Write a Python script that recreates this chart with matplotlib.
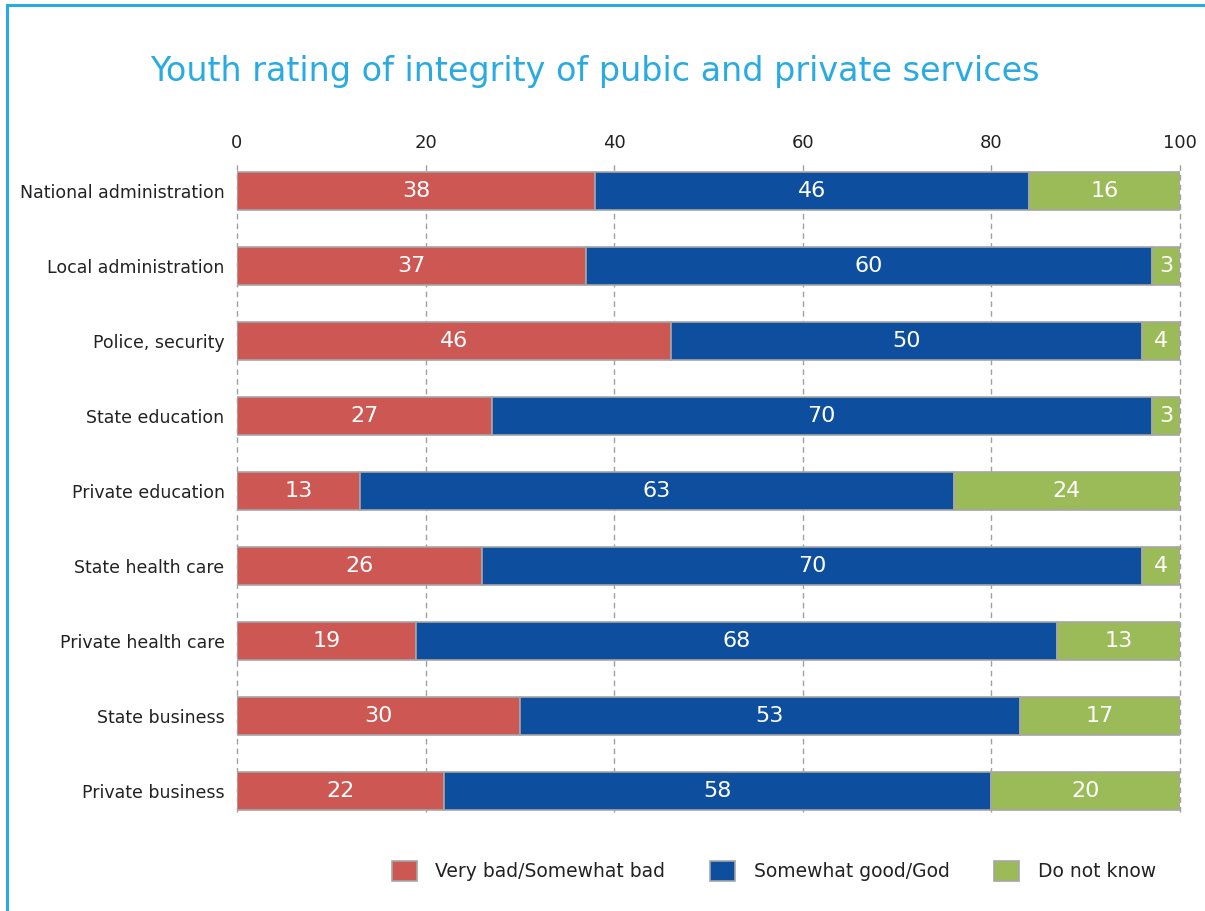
import matplotlib
matplotlib.use("Agg")
import matplotlib.pyplot as plt
from matplotlib.patches import Patch, Rectangle

categories = ["National administration", "Local administration", "Police, security",
              "State education", "Private education", "State health care",
              "Private health care", "State business", "Private business"]
very_bad = [38, 37, 46, 27, 13, 26, 19, 30, 22]
good = [46, 60, 50, 70, 63, 70, 68, 53, 58]
dont_know = [16, 3, 4, 3, 24, 4, 13, 17, 20]
series_names = ["Very bad/Somewhat bad", "Somewhat good/God", "Do not know"]
xticks = [0, 20, 40, 60, 80, 100]

colors = ["#CC5753", "#0D4E9F", "#9BBB59"]
edge = "#A6A6A6"
blue_title = "#29ABE2"

W, H = 1205, 911
fig = plt.figure(figsize=(W / 100, H / 100), dpi=100)
plt.rcParams['font.family'] = ['DejaVu Sans']

# border
fig.add_artist(Rectangle((7 / W, -0.1), 1.2, 1 - 5 / H + 0.1, transform=fig.transFigure,
                         fill=False, edgecolor=blue_title, linewidth=2.2))

left, right = 237 / W, 1180 / W
top, bottom = 1 - 163 / H, 1 - 812 / H
ax = fig.add_axes([left, bottom, right - left, top - bottom])

y = list(range(len(categories)))
series = [very_bad, good, dont_know]
lefts = [0] * len(categories)
for vals, c in zip(series, colors):
    bars = ax.barh(y, vals, left=lefts, height=0.5, color=c, edgecolor=edge, linewidth=1.2, zorder=3)
    for b, v, l in zip(bars, vals, lefts):
        ax.text(l + v / 2, b.get_y() + b.get_height() / 2, str(v), ha="center", va="center",
                color="white", fontsize=16, zorder=4)
    lefts = [a + b for a, b in zip(lefts, vals)]

ax.set_xlim(0, 100)
ax.set_ylim(8.28, -0.37)
ax.set_xticks(xticks)
ax.xaxis.tick_top()
ax.tick_params(axis="x", length=0, pad=8, labelsize=13, labelcolor="#222222")
ax.set_yticks(y)
ax.set_yticklabels(categories)
ax.tick_params(axis="y", length=0, pad=9, labelsize=12.5, labelcolor="#222222")
for s in ax.spines.values():
    s.set_visible(False)
ax.grid(axis="x", color="#A0A0A0", linestyle=(0, (4, 3)), linewidth=1, zorder=0)
for gl in ax.get_xgridlines():
    gl.set_clip_on(False)
ax.set_axisbelow(True)

fig.text(595 / W, 1 - 72 / H, "Youth rating of integrity of pubic and private services",
         ha="center", va="center", fontsize=24, color=blue_title)

handles = [Patch(facecolor=c, edgecolor=edge, linewidth=1.2) for c in colors]
fig.legend(handles, series_names, loc="center", bbox_to_anchor=(774 / W, 1 - 871 / H),
           ncol=3, frameon=False, fontsize=13.5, handlelength=1.3, handleheight=1.3,
           handletextpad=1.0, columnspacing=2.4, labelcolor="#222222")

fig.savefig("out.png", dpi=100)
